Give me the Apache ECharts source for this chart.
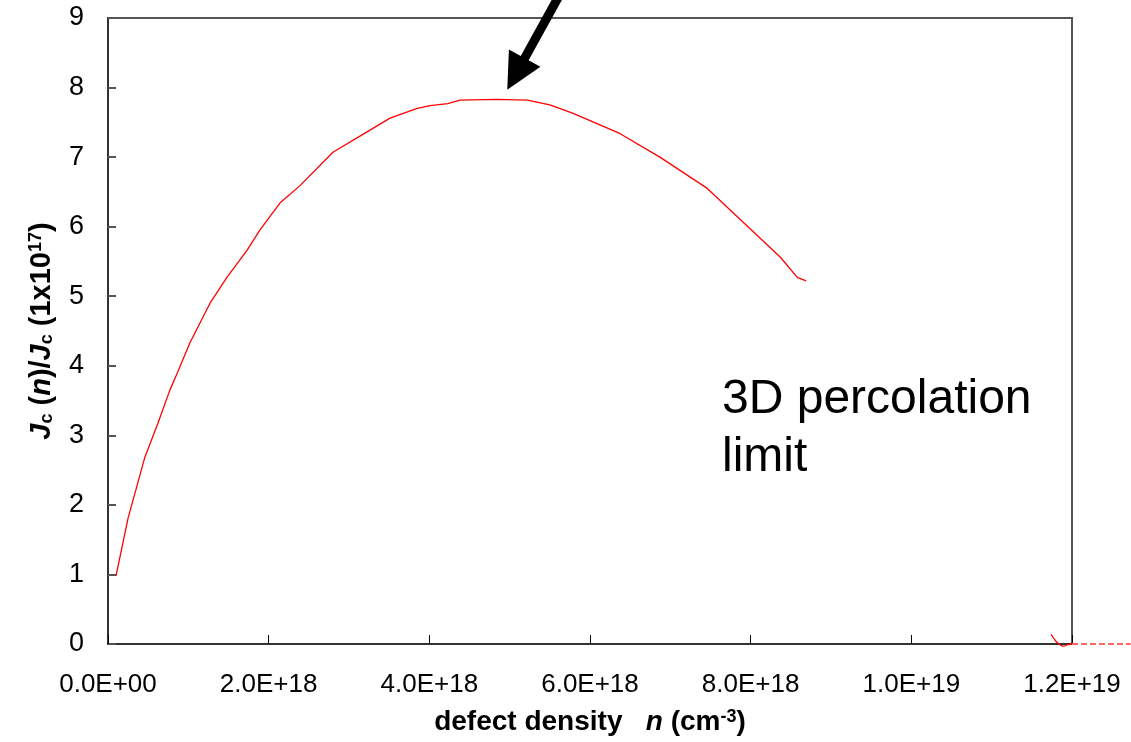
<!DOCTYPE html>
<html>
<head>
<meta charset="utf-8">
<script src="https://cdn.jsdelivr.net/npm/echarts@6/dist/echarts.min.js"></script>
<style>
  html, body { margin: 0; padding: 0; background: #fff; }
  #main { width: 1131px; height: 742px; }
</style>
</head>
<body>
<div id="main"></div>
<script>
// defect density n (in units of 1E+18 cm^-3) and Jc(n)/Jc(1x10^17)
var mainN = [0.10, 0.25, 0.46, 0.62, 0.77, 0.86, 1.02, 1.27, 1.48, 1.73, 1.89, 2.14, 2.39, 2.80, 3.22, 3.51,
             3.85, 4.01, 4.23, 4.38, 4.84, 5.22, 5.50, 5.79, 6.37, 6.87, 7.46, 7.91, 8.37, 8.58, 8.69];
var mainJ = [0.98, 1.81, 2.69, 3.17, 3.65, 3.89, 4.33, 4.90, 5.27, 5.66, 5.95, 6.34, 6.59, 7.07, 7.36, 7.56,
             7.70, 7.74, 7.77, 7.82, 7.83, 7.82, 7.75, 7.63, 7.34, 7.00, 6.55, 6.06, 5.56, 5.27, 5.22];
// the little hook at the percolation limit
var tailN = [11.74, 11.80, 11.85, 11.89, 11.95, 12.00];
var tailJ = [0.14, 0.04, -0.01, -0.03, -0.01, 0.00];
// faint continuation past the right frame
var extN = [12.00, 12.73];
var extJ = [0.00, 0.00];

var xTicks = [0, 2e18, 4e18, 6e18, 8e18, 1e19, 1.2e19];
var yTicks = [0, 1, 2, 3, 4, 5, 6, 7, 8, 9];

// arrow annotation (data coords)
var arrowTail = [5.63e18, 9.35];
var arrowTip = [4.97e18, 7.97];

var noteText = '3D percolation\nlimit';

function pairs(ns, js) {
    var out = [];
    for (var i = 0; i < ns.length; i++) out.push([ns[i] * 1e18, js[i]]);
    return out;
}

function sci(v) {
    if (v === 0) return '0.0E+00';
    var e = Math.floor(Math.log10(v) + 1e-9);
    var m = v / Math.pow(10, e);
    return m.toFixed(1) + 'E+' + (e < 10 ? '0' : '') + e;
}

var font = 'Liberation Sans, Arial, sans-serif';

var chart = echarts.init(document.getElementById('main'));
var option = {
    animation: false,
    backgroundColor: '#fff',
    textStyle: { fontFamily: font },
    grid: {
        left: 108, right: 59, top: 18, bottom: 98,
        show: true, borderColor: '#555', borderWidth: 2
    },
    xAxis: {
        type: 'value',
        min: xTicks[0],
        max: xTicks[xTicks.length - 1],
        interval: 2e18,
        splitLine: { show: false },
        axisLine: { lineStyle: { color: '#333', width: 2 } },
        axisTick: { inside: true, length: 9, lineStyle: { color: '#000', width: 1 } },
        axisLabel: { color: '#000', fontSize: 26, margin: 28, formatter: sci, fontFamily: font },
        name: '{b|defect density   }{i|n}{b| (cm}{sup|-3}{b|)}',
        nameLocation: 'middle',
        nameGap: 64,
        nameTextStyle: {
            rich: {
                b: { fontSize: 28, fontWeight: 'bold', color: '#000', fontFamily: font },
                i: { fontSize: 28, fontWeight: 'bold', fontStyle: 'italic', color: '#000', fontFamily: font },
                sup: { fontSize: 18, fontWeight: 'bold', color: '#000', verticalAlign: 'top', fontFamily: font }
            }
        }
    },
    yAxis: {
        type: 'value',
        min: 0,
        max: 9,
        interval: 1,
        splitLine: { show: false },
        axisLine: { lineStyle: { color: '#333', width: 2 } },
        axisTick: { inside: true, length: 8, lineStyle: { color: '#555', width: 2 } },
        axisLabel: { color: '#000', fontSize: 27, margin: 24, fontFamily: font },
        name: '{j|J}{s|c}{b| (}{i|n}{b|)/}{j|J}{s|c}{b| (1x10}{sup|17}{b|)}',
        nameLocation: 'middle',
        nameRotate: 90,
        nameGap: 52,
        nameTextStyle: {
            rich: {
                b: { fontSize: 29, fontWeight: 'bold', color: '#000', fontFamily: font },
                j: { fontSize: 29, fontWeight: 'bold', fontStyle: 'italic', color: '#000', fontFamily: font },
                i: { fontSize: 29, fontWeight: 'bold', fontStyle: 'italic', color: '#000', fontFamily: font },
                s: { fontSize: 18, fontWeight: 'bold', color: '#000', verticalAlign: 'bottom', fontFamily: font },
                sup: { fontSize: 18, fontWeight: 'bold', color: '#000', verticalAlign: 'top', fontFamily: font }
            }
        }
    },
    series: [
        {
            type: 'line',
            data: pairs(mainN, mainJ),
            showSymbol: false,
            smooth: false,
            lineStyle: { color: '#ff0000', width: 1.3 }
        },
        {
            type: 'line',
            data: pairs(tailN, tailJ),
            showSymbol: false,
            smooth: true,
            clip: false,
            lineStyle: { color: '#ff0000', width: 1.3 }
        }
    ]
};
chart.setOption(option);

// pixel position from data, extrapolated linearly so points past the frame still land right
var o = chart.convertToPixel({ gridIndex: 0 }, [0, 0]);
var q = chart.convertToPixel({ gridIndex: 0 }, [1e19, 9]);
function toPx(pt) {
    return [o[0] + (q[0] - o[0]) * pt[0] / 1e19, o[1] + (q[1] - o[1]) * pt[1] / 9];
}

// arrow + text annotation
var p0 = toPx(arrowTail);
var p1 = toPx(arrowTip);
var dx = p1[0] - p0[0], dy = p1[1] - p0[1];
var len = Math.sqrt(dx * dx + dy * dy);
var ux = dx / len, uy = dy / len;
var headLen = 36, headHalf = 18;
var bx = p1[0] - ux * headLen, by = p1[1] - uy * headLen;
var e0 = toPx([extN[0] * 1e18, extJ[0]]);
var e1 = toPx([extN[1] * 1e18, extJ[1]]);
chart.setOption({
    graphic: [
        {
            type: 'line',
            shape: { x1: e0[0], y1: e0[1], x2: e1[0], y2: e1[1] },
            style: { stroke: '#ff6666', lineWidth: 2, lineDash: [6, 3] },
            z: 100
        },
        {
            type: 'line',
            shape: { x1: p0[0], y1: p0[1], x2: bx + ux * 2, y2: by + uy * 2 },
            style: { stroke: '#000', lineWidth: 9 },
            z: 100
        },
        {
            type: 'polygon',
            shape: {
                points: [
                    [p1[0], p1[1]],
                    [bx - uy * headHalf, by + ux * headHalf],
                    [bx + uy * headHalf, by - ux * headHalf]
                ]
            },
            style: { fill: '#000' },
            z: 100
        },
        {
            type: 'text',
            left: 722,
            top: 371,
            style: {
                text: noteText,
                font: '48px ' + font,
                fill: '#000',
                lineHeight: 58
            },
            z: 100
        }
    ]
});
</script>
</body>
</html>
